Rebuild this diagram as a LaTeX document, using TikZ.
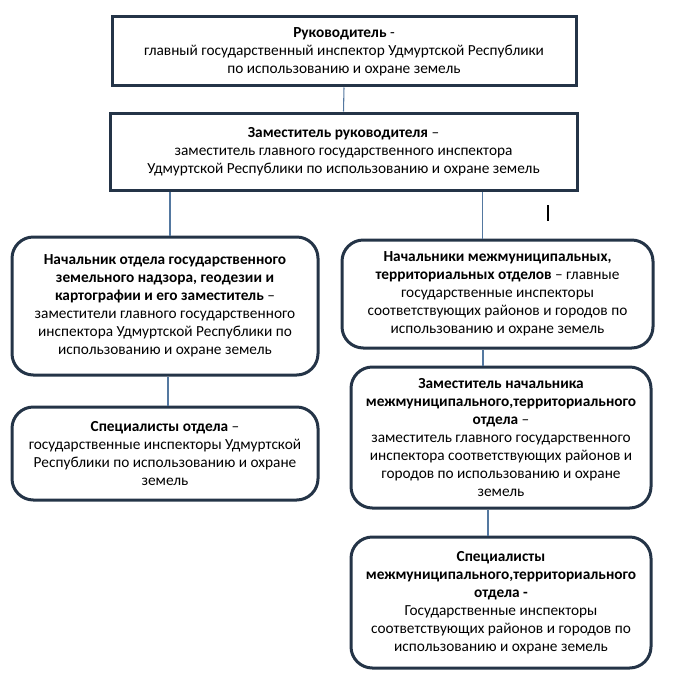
\documentclass[tikz,border=0pt]{standalone}
\usepackage{fontspec}
\setmainfont{Carlito}
\definecolor{boxline}{RGB}{36,52,71}
\definecolor{linkline}{RGB}{84,120,160}
\tikzset{
  unitbox/.style={draw=boxline, line width=2.25pt, align=center, inner sep=0pt,
    font=\fontsize{11.5}{13.5}\selectfont},
  roundbox/.style={unitbox, rounded corners=16pt},
  link/.style={draw=linkline, line width=0.8pt}
}
\begin{document}
\begin{tikzpicture}[x=0.75pt, y=-0.75pt]
  \useasboundingbox (0,0) rectangle (673,685);
  % top level
  \node [unitbox, minimum width=348pt, minimum height=51.75pt] (head) at (344,51.5)
    {\textbf{Руководитель} -\\главный государственный инспектор Удмуртской Республики\\по использованию и охране земель};
  \node [unitbox, minimum width=350.25pt, minimum height=57.75pt] (deputy) at (343.5,151.5)
    {\textbf{Заместитель руководителя} –\\заместитель главного государственного инспектора\\Удмуртской Республики по использованию и охране земель};
  % left branch
  \node [roundbox, minimum width=229.5pt, minimum height=103.5pt] (dept) at (165,306)
    {\textbf{Начальник отдела государственного}\\\textbf{земельного надзора, геодезии и}\\\textbf{картографии и его заместитель} –\\заместители главного государственного\\инспектора Удмуртской Республики по\\использованию и охране земель};
  \node [roundbox, minimum width=229.5pt, minimum height=69.75pt] (deptspec) at (165,453.5)
    {\textbf{Специалисты отдела} –\\государственные инспекторы Удмуртской\\Республики по использованию и охране\\земель};
  % right branch
  \node [roundbox, minimum width=233.25pt, minimum height=81pt] (terr) at (497.5,294)
    {\textbf{Начальники межмуниципальных,}\\\textbf{территориальных отделов} – главные\\государственные инспекторы\\соответствующих районов и городов по\\использованию и охране земель};
  \node [roundbox, minimum width=225pt, minimum height=105.75pt] (terrdep) at (501,437.5)
    {\textbf{Заместитель начальника}\\\textbf{межмуниципального,территориального}\\\textbf{отдела} –\\заместитель главного государственного\\инспектора соответствующих районов и\\городов по использованию и охране\\земель};
  \node [roundbox, minimum width=225pt, minimum height=98.25pt] (terrspec) at (501,602.5)
    {\textbf{Специалисты}\\\textbf{межмуниципального,территориального}\\\textbf{отдела -}\\Государственные инспекторы\\соответствующих районов и городов по\\использованию и охране земель};
  % links
  \draw [link] (head.south) -- (deputy.north);
  \draw [link] ([xshift=3.75pt]dept.north) -- ([xshift=3.75pt]dept.north |- deputy.south);
  \draw [link] ([xshift=-11.6pt]terr.north) -- ([xshift=-11.6pt]terr.north |- deputy.south);
  \draw [link] ([xshift=2.25pt]deptspec.north) -- ([xshift=2.25pt]deptspec.north |- dept.south);
  \draw [link] ([xshift=-13.5pt]terrdep.north) -- ([xshift=-13.5pt]terrdep.north |- terr.south);
  \draw [link] ([xshift=-9.75pt]terrspec.north) -- ([xshift=-9.75pt]terrspec.north |- terrdep.south);
  % text cursor
  \draw [black, line width=1.5pt] (548,205) -- (548,221);
\end{tikzpicture}
\end{document}
